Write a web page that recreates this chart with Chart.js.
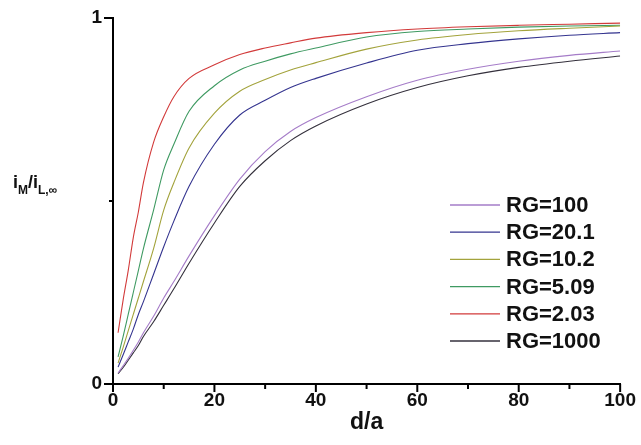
<!DOCTYPE html>
<html>
<head>
<meta charset="utf-8">
<script src="https://cdn.jsdelivr.net/npm/chart.js@4.4.0/dist/chart.umd.min.js"></script>
<style>
  html, body { margin: 0; padding: 0; background: #fff; }
  #wrap { width: 641px; height: 445px; }
</style>
</head>
<body>
<div id="wrap"><canvas id="approachChart" width="641" height="445"></canvas></div>
<script>
// normalised tip-substrate distance d/a
const distance = [1, 2, 3, 4, 5, 6, 8, 10, 12, 15, 20, 25, 30, 35, 40, 50, 60, 70, 80, 90, 100];

// normalised current iM / iL,inf for each RG value
const rg100  = [0.030, 0.050, 0.070, 0.092, 0.115, 0.140, 0.185, 0.235, 0.280, 0.350, 0.460, 0.560, 0.635, 0.690, 0.728, 0.785, 0.830, 0.860, 0.882, 0.898, 0.910];
const rg20_1 = [0.046, 0.080, 0.115, 0.150, 0.190, 0.225, 0.300, 0.375, 0.445, 0.540, 0.655, 0.735, 0.775, 0.810, 0.835, 0.877, 0.912, 0.930, 0.943, 0.953, 0.960];
const rg10_2 = [0.057, 0.100, 0.145, 0.190, 0.235, 0.280, 0.370, 0.475, 0.550, 0.645, 0.740, 0.800, 0.832, 0.858, 0.878, 0.915, 0.940, 0.955, 0.965, 0.972, 0.978];
const rg5_09 = [0.074, 0.130, 0.190, 0.250, 0.310, 0.370, 0.475, 0.585, 0.655, 0.745, 0.815, 0.858, 0.882, 0.902, 0.918, 0.948, 0.963, 0.970, 0.975, 0.978, 0.980];
const rg2_03 = [0.140, 0.230, 0.310, 0.400, 0.470, 0.550, 0.660, 0.730, 0.785, 0.835, 0.872, 0.900, 0.918, 0.932, 0.945, 0.960, 0.970, 0.976, 0.980, 0.983, 0.986];
const rg1000 = [0.028, 0.045, 0.065, 0.085, 0.105, 0.130, 0.170, 0.215, 0.260, 0.330, 0.440, 0.540, 0.610, 0.665, 0.705, 0.765, 0.810, 0.842, 0.865, 0.882, 0.896];

const seriesLabels = ['RG=100', 'RG=20.1', 'RG=10.2', 'RG=5.09', 'RG=2.03', 'RG=1000'];
const seriesValues = [rg100, rg20_1, rg10_2, rg5_09, rg2_03, rg1000];
const seriesColors = ['#a57cc8', '#34348f', '#a3a33c', '#3f9a62', '#d23a3a', '#34303c'];

const FONT = "'Liberation Sans', Arial, sans-serif";
const NARROW = "'Liberation Sans Narrow', 'Arial Narrow', 'Liberation Sans', Arial, sans-serif";

// tick marks: long ones at labelled values, short ones in between
const axisTicks = {
  id: 'axisTicks',
  afterDraw(chart) {
    const { ctx, chartArea, scales: { x, y } } = chart;
    ctx.save();
    ctx.strokeStyle = '#000';
    ctx.lineWidth = 2;
    x.ticks.forEach(t => {
      const px = x.getPixelForValue(t.value);
      const len = t.value % 20 === 0 ? 8 : 5;
      ctx.beginPath();
      ctx.moveTo(px, chartArea.bottom);
      ctx.lineTo(px, chartArea.bottom + len);
      ctx.stroke();
    });
    y.ticks.forEach(t => {
      const py = y.getPixelForValue(t.value);
      const len = t.value === 0.5 ? 4 : 9;
      ctx.beginPath();
      ctx.moveTo(chartArea.left, py);
      ctx.lineTo(chartArea.left - len, py);
      ctx.stroke();
    });
    ctx.restore();
  }
};

// key sits inside the plot, lower right
const curveKey = {
  id: 'curveKey',
  afterDraw(chart) {
    const ctx = chart.ctx;
    ctx.save();
    ctx.font = `bold 22px ${FONT}`;
    ctx.textBaseline = 'middle';
    ctx.textAlign = 'left';
    chart.data.datasets.forEach((ds, i) => {
      const rowY = 205 + i * 27.2;
      ctx.strokeStyle = ds.borderColor;
      ctx.lineWidth = 1.3;
      ctx.beginPath();
      ctx.moveTo(450, rowY);
      ctx.lineTo(500, rowY);
      ctx.stroke();
      ctx.fillStyle = '#111';
      ctx.fillText(ds.label, 506, rowY + 1);
    });
    ctx.restore();
  }
};

// horizontal y caption with subscripts: iM/iL,∞
const yCaption = {
  id: 'yCaption',
  afterDraw(chart) {
    const ctx = chart.ctx;
    const big = `bold 18px ${FONT}`;
    const small = `bold 12px ${FONT}`;
    const parts = [
      { text: 'i', font: big, dy: 0 },
      { text: 'M', font: small, dy: 6 },
      { text: '/i', font: big, dy: 0 },
      { text: 'L,\u221E', font: small, dy: 6 }
    ];
    ctx.save();
    ctx.fillStyle = '#111';
    ctx.textBaseline = 'alphabetic';
    let cx = 13;
    parts.forEach(p => {
      ctx.font = p.font;
      ctx.fillText(p.text, cx, 188 + p.dy);
      cx += ctx.measureText(p.text).width;
    });
    ctx.restore();
  }
};

new Chart(document.getElementById('approachChart'), {
  type: 'line',
  data: {
    datasets: seriesLabels.map((label, i) => ({
      label: label,
      data: distance.map((d, k) => ({ x: d, y: seriesValues[i][k] })),
      borderColor: seriesColors[i],
      borderWidth: 1.1,
      pointRadius: 0,
      cubicInterpolationMode: 'monotone',
      fill: false
    }))
  },
  options: {
    responsive: false,
    animation: false,
    layout: { padding: { top: 18, right: 18, left: 0, bottom: 0 } },
    plugins: {
      legend: { display: false },
      tooltip: { enabled: false }
    },
    scales: {
      x: {
        type: 'linear',
        min: 0,
        max: 100,
        grid: { display: false, drawTicks: true, tickLength: 0 },
        border: { display: true, color: '#000', width: 2 },
        ticks: {
          stepSize: 10,
          autoSkip: false,
          maxRotation: 0,
          padding: 5,
          color: '#111',
          font: { family: NARROW, size: 19, weight: 'bold' },
          callback: v => (v % 20 === 0 ? v : '')
        },
        title: {
          display: true,
          text: 'd/a',
          color: '#111',
          font: { family: FONT, size: 23, weight: 'bold' },
          padding: { top: 0, bottom: 9 }
        },
        afterFit: scale => { scale.height = 61; }
      },
      y: {
        min: 0,
        max: 1,
        grid: { display: false, drawTicks: true, tickLength: 9 },
        border: { display: true, color: '#000', width: 2 },
        ticks: {
          stepSize: 0.5,
          padding: 2,
          color: '#111',
          font: { family: NARROW, size: 19, weight: 'bold' },
          callback: v => (v === 0.5 ? '' : v)
        },
        afterFit: scale => { scale.width = 113; }
      }
    }
  },
  plugins: [axisTicks, curveKey, yCaption]
});
</script>
</body>
</html>
